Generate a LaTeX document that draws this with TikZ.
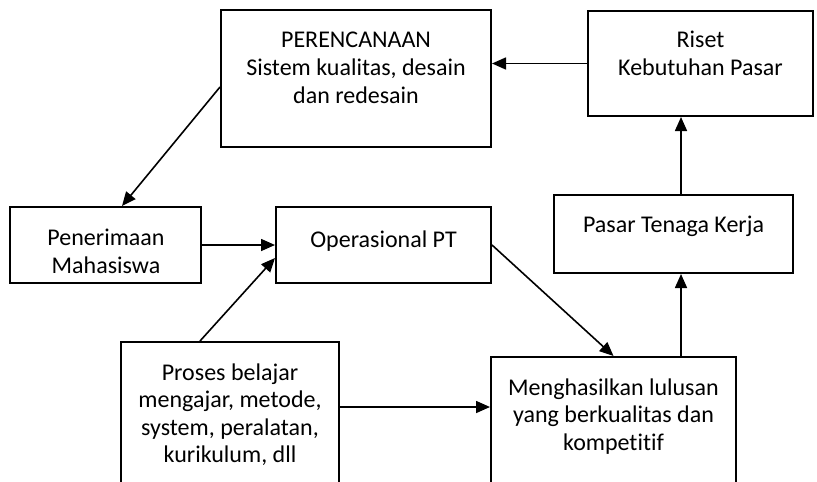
\documentclass[tikz,border=0pt]{standalone}
\usepackage{fontspec}
\setmainfont{Carlito}[Ligatures=CommonOff]
\usetikzlibrary{arrows.meta,positioning,calc}

\begin{document}
\begin{tikzpicture}[
    x=0.5pt, y=-0.5pt,
    blk/.style={draw, line width=1pt, inner sep=0pt},
    txt/.style={anchor=north, align=center, inner sep=0pt, font=\fontsize{12}{13.8}\selectfont,
      execute at begin node={\rule{0pt}{9pt}}},
    arr/.style={-{Triangle[length=7pt, width=6pt]}, line width=0.8pt}
  ]
  \useasboundingbox (0,0) rectangle (817,481);
  \clip (0,0) rectangle (817,481);
  % boxes
  \node[blk, minimum width=135pt, minimum height=68.5pt] (plan) at (356,78.5) {};
  \node[blk, minimum width=112.5pt, minimum height=52.5pt] (riset) at (700.5,63.5) {};
  \node[blk, minimum width=95.5pt, minimum height=38pt] (terima) at (105.5,245) {};
  \node[blk, minimum width=107.5pt, minimum height=38pt] (ops) at (383.5,245) {};
  \node[blk, minimum width=119.5pt, minimum height=39pt] (pasar) at (673.5,234) {};
  \node[blk, minimum width=122.5pt, minimum height=90pt] (lulus) at (613.5,447) {};
  \node[blk, minimum width=109pt, minimum height=90pt] (proses) at (230,432) {};
  % texts
  \node[txt] (plantxt) at (356,32) {PERENCANAAN\\Sistem kualitas, desain\\dan redesain};
  \node[txt] (risettxt) at (700.5,31) {Riset\\Kebutuhan Pasar};
  \node[txt] (terimatxt) at (106,229) {Penerimaan\\Mahasiswa};
  \node[txt] (opstxt) at (383.5,229) {Operasional PT};
  \node[txt] (pasartxt) at (673.5,214) {Pasar Tenaga Kerja};
  \node[txt] (lulustxt) at (613.5,378) {Menghasilkan lulusan\\yang berkualitas dan\\kompetitif};
  \node[txt] (prosestxt) at (230,363) {Proses belajar\\mengajar, metode,\\system, peralatan,\\kurikulum, dll};
  % connectors
  \coordinate (kiri) at ([yshift=12.5pt]proses.east);
  \coordinate (naik) at ([xshift=3.75pt]pasar.south);
  \coordinate (naik2) at ([xshift=3.75pt]pasar.north);
  \draw[arr] (riset.west) -- (riset.west -| plan.east);
  \draw[arr] ([yshift=-4.25pt]plan.west) -- ([xshift=8.25pt]terima.north);
  \draw[arr] (terima.east) -- (ops.west);
  \draw[arr] ([xshift=-15pt]proses.north) -- ([yshift=-6.5pt]ops.west);
  \draw[arr] (ops.east) -- (lulus.north);
  \draw[arr] (kiri) -- (kiri -| lulus.west);
  \draw[arr] (naik |- lulus.north) -- (naik);
  \draw[arr] (naik2) -- (naik2 |- riset.south);
\end{tikzpicture}
\end{document}
